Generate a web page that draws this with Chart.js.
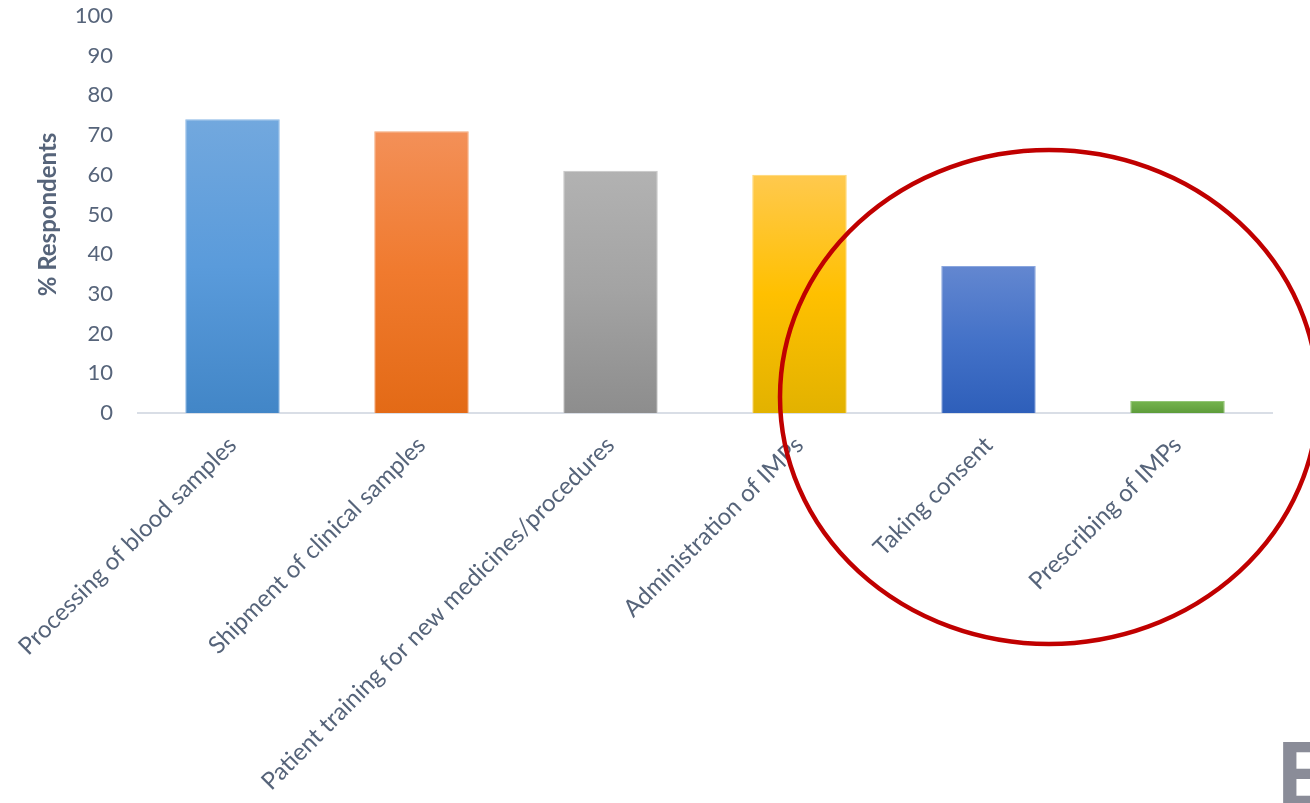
<!DOCTYPE html>
<html>
<head>
<meta charset="utf-8">
<script src="https://cdn.jsdelivr.net/npm/chart.js@4.4.1/dist/chart.umd.min.js"></script>
<style>
  html, body { margin: 0; padding: 0; background: #ffffff; overflow: hidden; }
  #wrap { position: relative; width: 1310px; height: 803px; }
  canvas { display: block; }
</style>
</head>
<body>
<div id="wrap"><canvas id="c" width="1310" height="803"></canvas></div>
<script>
// ---- data ----
const categories = [
  "Processing of blood samples",
  "Shipment of clinical samples",
  "Patient training for new medicines/procedures",
  "Administration of IMPs",
  "Taking consent",
  "Prescribing of IMPs"
];
const respondents = [74, 71, 61, 60, 37, 3];
const yTicks = [0, 10, 20, 30, 40, 50, 60, 70, 80, 90, 100];
const axisTitle = "% Respondents";

// gradient stops (top -> bottom) per bar
const barGradients = [
  ["#72a8de", "#5a9bdb", "#4286c7"],
  ["#f39058", "#f07a2e", "#e36a16"],
  ["#b2b2b2", "#a3a3a3", "#8d8d8d"],
  ["#ffc94e", "#ffc000", "#e2b200"],
  ["#6387d0", "#4472c8", "#2e5fba"],
  ["#74b44e", "#6aa845", "#5d9c3a"]
];
const barBorders = ["#8bb8e6", "#f5a676", "#c6c6c6", "#ffd66e", "#8aa6de", "#93c575"];

const textColor = "#56647a";
const fontFamily = "Lato, 'Open Sans', sans-serif";

const ellipsePlugin = {
  id: "ellipse",
  afterDraw(chart) {
    const ctx = chart.ctx;
    ctx.save();
    ctx.beginPath();
    ctx.ellipse(1049, 397, 269, 247, 0, 0, Math.PI * 2);
    ctx.lineWidth = 4.5;
    ctx.strokeStyle = "#c00000";
    ctx.stroke();
    ctx.fillStyle = "#8a8c98";
    ctx.font = "bold 92px 'Liberation Sans', Arial, sans-serif";
    ctx.textBaseline = "alphabetic";
    ctx.textAlign = "left";
    ctx.fillText("E", 1277, 806);
    ctx.restore();
  }
};

new Chart(document.getElementById("c"), {
  type: "bar",
  data: {
    labels: categories,
    datasets: [{
      label: axisTitle,
      data: respondents,
      backgroundColor(context) {
        const chart = context.chart;
        const area = chart.chartArea;
        if (!area) return barGradients[context.dataIndex % 6][1];
        const y = chart.scales.y;
        const v = context.parsed ? context.parsed.y : respondents[context.dataIndex];
        const top = y.getPixelForValue(v);
        const bottom = y.getPixelForValue(0);
        const stops = barGradients[context.dataIndex % 6];
        const g = chart.ctx.createLinearGradient(0, top, 0, bottom === top ? top + 1 : bottom);
        g.addColorStop(0, stops[0]);
        g.addColorStop(0.5, stops[1]);
        g.addColorStop(1, stops[2]);
        return g;
      },
      borderColor: barBorders,
      borderWidth: 1,
      barPercentage: 1.0,
      categoryPercentage: 0.5
    }]
  },
  options: {
    responsive: false,
    animation: false,
    devicePixelRatio: 1,
    layout: { padding: { top: 16, right: 38, left: 34, bottom: 0 } },
    plugins: {
      legend: { display: false },
      tooltip: { enabled: false }
    },
    scales: {
      x: {
        grid: { display: false, drawTicks: false },
        border: { display: true, color: "#d9dee6", width: 2 },
        ticks: {
          color: textColor,
          font: { family: fontFamily, size: 24 },
          minRotation: 45,
          maxRotation: 45,
          autoSkip: false,
          padding: 18
        },
        afterFit(scale) {
          scale.height = 390;
          scale.paddingLeft = 0;
          scale.paddingRight = 0;
        }
      },
      y: {
        min: 0,
        max: 100,
        afterBuildTicks(scale) { scale.ticks = yTicks.map(v => ({ value: v })); },
        grid: { display: false, drawTicks: false },
        border: { display: false },
        ticks: {
          color: textColor,
          font: { family: fontFamily, size: 22 },
          padding: 25
        },
        title: {
          display: true,
          text: axisTitle,
          color: textColor,
          font: { family: fontFamily, size: 24, weight: "bold" },
          padding: { top: 0, bottom: 0 }
        },
        afterFit(scale) {
          scale.width = 104;
          scale.paddingTop = 0;
          scale.paddingBottom = 0;
        }
      }
    }
  },
  plugins: [ellipsePlugin]
});
</script>
</body>
</html>
